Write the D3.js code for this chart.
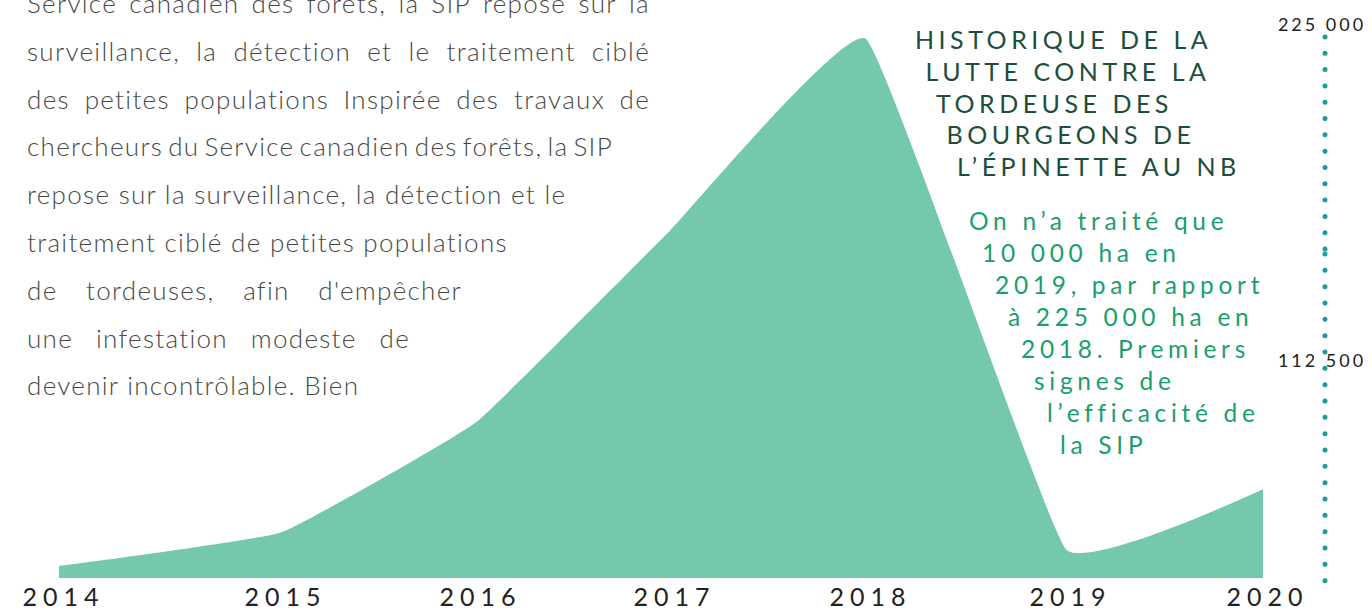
<!DOCTYPE html>
<html>
<head>
<meta charset="utf-8">
<script src="https://cdn.jsdelivr.net/npm/d3@7/dist/d3.min.js"></script>
<style>
	body { margin: 0; background: #fff; }
	svg { display: block; font-family: Lato, "Open Sans", sans-serif; }
</style>
</head>
<body>
<div id="chartDiv"></div>
<script>
;(function() {

	// data (hectares treated per year)
	var years = [2014, 2015, 2016, 2017, 2018, 2019, 2020];
	var hectares = [5000, 19000, 65000, 145000, 225000, 12000, 37000];
	var axisTicks = [225000, 112500];

	var titleLines = ["HISTORIQUE DE LA", "LUTTE CONTRE LA", "TORDEUSE DES", "BOURGEONS DE", "L\u2019ÉPINETTE AU NB"];
	var noteLines = ["On n\u2019a traité que", "10 000 ha en", "2019, par rapport", "à 225 000 ha en",
		"2018. Premiers", "signes de", "l\u2019efficacité de", "la SIP"];
	var bodyLines = [
		"Service canadien des forêts, la SIP repose sur la",
		"surveillance, la détection et le traitement ciblé",
		"des petites populations Inspirée des travaux de",
		"chercheurs du Service canadien des forêts, la SIP",
		"repose sur la surveillance, la détection et le",
		"traitement ciblé de petites populations",
		"de tordeuses, afin d'empêcher",
		"une infestation modeste de",
		"devenir incontrôlable. Bien"
	];

	var width = 1372;
	var height = 610;
	// the picture spaces the years unevenly, so the x scale is piecewise
	var xStops = [59, 281, 476, 670, 866, 1066, 1263];
	var baseY = 578;
	var topY = 39;
	// justify widths for the wrapped paragraph (null = natural width)
	var bodyWidths = [623, 623, 623, 586, null, null, 435, 383, null];

	var chart;

	init();

	function init() {
		chart = d3.select("#chartDiv").append("svg")
			.attr("width", width)
			.attr("height", height);

		drawArea();
		drawXAxis();
		drawRightAxis();
		drawTitle();
		drawBody();
	}

	function drawArea() {
		chart.xScale = d3.scaleLinear()
			.domain(years)
			.range(xStops);

		chart.yScale = d3.scaleLinear()
			.domain([0, d3.max(hectares)])
			.range([baseY, topY]);

		var area = d3.area()
			.x(function(d, i) { return chart.xScale(years[i]); })
			.y0(chart.yScale(0))
			.y1(function(d) { return chart.yScale(d); })
			.curve(d3.curveCardinal.tension(0.7));

		chart.append("path")
			.datum(hectares)
			.attr("fill", "#74c8ac")
			.attr("d", area);
	}

	function drawXAxis() {
		var xAxis = d3.axisBottom(chart.xScale)
			.tickValues(years)
			.tickFormat(d3.format("d"))
			.tickSize(0)
			.tickPadding(10);

		var g = chart.append("g")
			.attr("transform", "translate(4," + baseY + ")")
			.call(xAxis);
		g.select(".domain").remove();
		g.selectAll("text")
			.style("font-family", "Lato, sans-serif")
			.style("font-size", "25px")
			.style("letter-spacing", "6px")
			.attr("fill", "#222");
	}

	function drawRightAxis() {
		var axisX = 1325;
		// decorative scale of the dotted axis on the right
		var rScale = d3.scaleLinear()
			.domain([0, 225000])
			.range([695, 24]);

		// two dotted runs, as in the picture
		var runs = [[37, 249], [254, 597]];
		chart.selectAll(".dots")
			.data(runs)
			.enter().append("line")
			.attr("class", "dots")
			.attr("x1", axisX).attr("x2", axisX)
			.attr("y1", function(d) { return d[0]; })
			.attr("y2", function(d) { return d[1]; })
			.attr("stroke", "#1e9c98")
			.attr("stroke-width", 5)
			.attr("stroke-linecap", "round")
			.attr("stroke-dasharray", function(d) {
				var n = Math.round((d[1] - d[0]) / 16.4);
				return "0 " + ((d[1] - d[0]) / n);
			});

		chart.selectAll(".rtick")
			.data(axisTicks)
			.enter().append("text")
			.attr("class", "rtick")
			.attr("x", axisX - 3)
			.attr("y", function(d) { return rScale(d) + 7; })
			.attr("text-anchor", "middle")
			.style("font-size", "18px")
			.style("letter-spacing", "3px")
			.attr("fill", "#222")
			.text(function(d) { return d3.format(",")(d).replace(/,/g, " "); });
	}

	function drawTitle() {
		chart.selectAll(".title")
			.data(titleLines)
			.enter().append("text")
			.attr("class", "title")
			.attr("x", function(d, i) { return 915 + i * 10.5; })
			.attr("y", function(d, i) { return 49 + i * 31.8; })
			.style("font-size", "25px")
			.style("letter-spacing", "4.5px")
			.attr("fill", "#1d4e3c")
			.text(function(d) { return d; });

		chart.selectAll(".note")
			.data(noteLines)
			.enter().append("text")
			.attr("class", "note")
			.attr("x", function(d, i) { return 969 + i * 13; })
			.attr("y", function(d, i) { return 230 + i * 32; })
			.style("font-size", "24.5px")
			.style("letter-spacing", "4.7px")
			.attr("fill", "#18a06c")
			.text(function(d) { return d; });
	}

	function drawBody() {
		var left = 27;
		bodyLines.forEach(function(line, i) {
			var t = chart.append("text")
				.attr("y", 13 + i * 47.8)
				.style("font-size", "26px")
				.style("font-weight", 300)
				.style("letter-spacing", "1.3px")
				.attr("fill", "#484848");
			var w = bodyWidths[i];
			if (w == null) {
				t.attr("x", left).text(line);
				return;
			}
			// justify: spread the words over the given width
			var words = line.split(" ");
			var spans = words.map(function(word) {
				return t.append("tspan").text(word);
			});
			var sizes = spans.map(function(s) { return s.node().getComputedTextLength(); });
			var gap = Math.max(1, (w - d3.sum(sizes)) / (words.length - 1));
			var x = left;
			spans.forEach(function(s, j) {
				s.attr("x", x);
				x += sizes[j] + gap;
			});
		});
	}

})();
</script>
</body>
</html>
